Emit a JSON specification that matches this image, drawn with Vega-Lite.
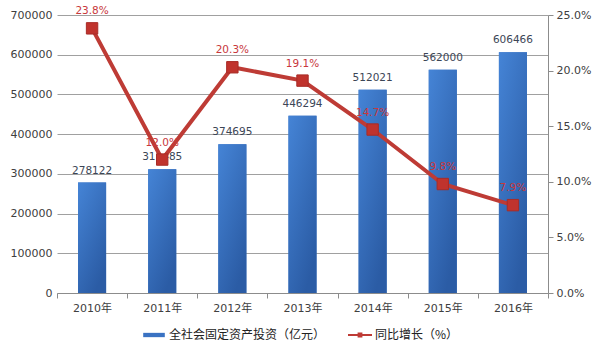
{
  "$schema": "https://vega.github.io/schema/vega-lite/v6.json",
  "width": 491,
  "height": 278,
  "autosize": {"type": "none"},
  "padding": {"left": 57, "top": 15, "right": 52, "bottom": 63},
  "background": "#ffffff",
  "config": {
    "font": "DejaVu Sans, Noto Sans CJK SC",
    "view": {"stroke": null},
    "axis": {"labelFont": "DejaVu Sans, Noto Sans CJK SC", "labelColor": "#404040", "labelFontSize": 11, "labelOverlap": false}
  },
  "data": {
    "values": [
      {"year": "2010年", "invest": 278122, "growth": 0.238},
      {"year": "2011年", "invest": 311485, "growth": 0.120},
      {"year": "2012年", "invest": 374695, "growth": 0.203},
      {"year": "2013年", "invest": 446294, "growth": 0.191},
      {"year": "2014年", "invest": 512021, "growth": 0.147},
      {"year": "2015年", "invest": 562000, "growth": 0.098},
      {"year": "2016年", "invest": 606466, "growth": 0.079}
    ]
  },
  "encoding": {
    "x": {
      "field": "year", "type": "nominal", "sort": null,
      "scale": {"paddingInner": 0, "paddingOuter": 0},
      "axis": {"title": null, "labelAngle": 0, "tickBand": "extent", "domainColor": "#8c8c8c", "tickColor": "#8c8c8c", "tickSize": 5, "labelPadding": 4}
    }
  },
  "layer": [
    {
      "encoding": {
        "y": {
          "field": "invest", "type": "quantitative",
          "scale": {"domain": [0, 700000], "nice": false},
          "axis": {"title": null, "values": [0, 100000, 200000, 300000, 400000, 500000, 600000, 700000], "labelExpr": "format(datum.value, 'd')", "domainOpacity": 0, "tickSize": 4, "tickOpacity": 0, "grid": true, "gridColor": "#a0a0a0", "gridWidth": 1, "gridOpacity": 1, "labelPadding": 1, "labelOverlap": false}
        }
      },
      "layer": [
        {
          "mark": {"type": "bar", "width": {"band": 0.4}},
          "encoding": {
            "color": {
              "datum": "全社会固定资产投资（亿元）",
              "type": "nominal",
              "scale": {
                "domain": ["全社会固定资产投资（亿元）", "同比增长（%）"],
                "range": ["#3a72c2", "#be3b35"]
              },
              "legend": {
                "orient": "none", "legendX": 85, "legendY": 308, "direction": "horizontal", "title": null,
                "symbolSize": 576, "symbolStrokeWidth": 0, "labelFontSize": 12, "labelColor": "#222222",
                "labelFont": "Noto Sans CJK SC", "labelOffset": 3, "columnPadding": 22, "padding": 0,
                "encode": {"symbols": {"update": {"shape": {"signal": "datum.value === '同比增长（%）' ? 'M-1,-0.09H1V0.09H-1Z M-0.2,-0.2H0.2V0.2H-0.2Z' : 'M-0.9,-0.18H0.9V0.18H-0.9Z'"}}}}
              }
            }
          }
        },
        {
          "mark": {"type": "bar", "width": {"band": 0.4},
            "fill": {"gradient": "linear", "x1": 0, "y1": 0, "x2": 0.6, "y2": 1, "stops": [{"offset": 0, "color": "#4584d6"}, {"offset": 1, "color": "#2b5ca5"}]}}
        },
        {
          "mark": {"type": "text", "dy": -12, "fontSize": 10.5, "color": "#3c4656"},
          "encoding": {
            "text": {"field": "invest", "type": "quantitative", "format": "d"}
          }
        }
      ]
    },
    {
      "encoding": {
        "y": {
          "field": "growth", "type": "quantitative",
          "scale": {"domain": [0, 0.25], "nice": false},
          "axis": {"title": null, "orient": "right", "values": [0, 0.05, 0.1, 0.15, 0.2, 0.25], "format": ".1%", "grid": false, "domainColor": "#8c8c8c", "tickColor": "#8c8c8c", "tickSize": 5, "labelPadding": 3, "labelOverlap": false}
        }
      },
      "layer": [
        {
          "mark": {"type": "line", "strokeWidth": 4},
          "encoding": {
            "color": {"datum": "同比增长（%）", "type": "nominal"}
          }
        },
        {
          "mark": {"type": "point", "shape": "square", "filled": true, "size": 130, "color": "#c0332d", "opacity": 1, "stroke": "#a82c27", "strokeWidth": 1}
        },
        {
          "mark": {"type": "text", "dy": -17, "fontSize": 10.5, "color": "#c8383c"},
          "encoding": {
            "text": {"field": "growth", "type": "quantitative", "format": ".1%"}
          }
        }
      ]
    }
  ],
  "resolve": {"scale": {"y": "independent"}}
}
